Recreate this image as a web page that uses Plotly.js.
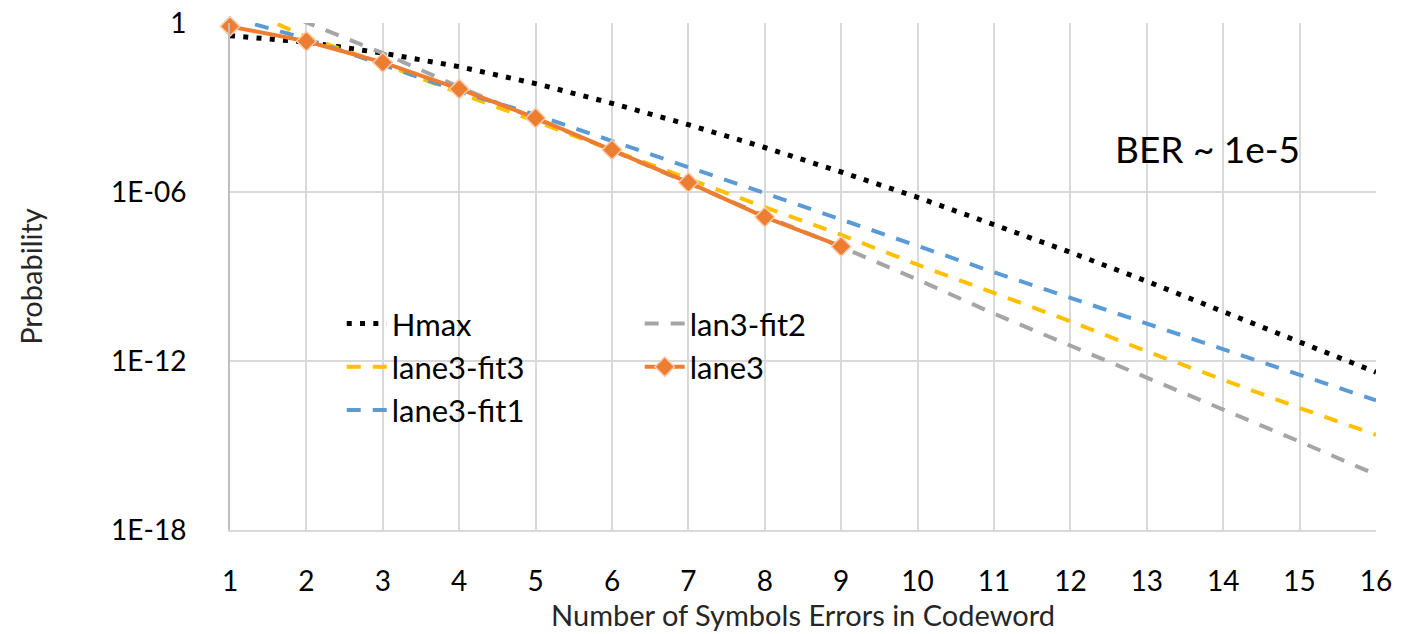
<!DOCTYPE html>
<html>
<head>
<meta charset="utf-8">
<script src="https://cdn.plot.ly/plotly-3.0.1.min.js"></script>
<style>html,body{margin:0;padding:0;background:#fff;}#chart{width:1416px;height:634px;}</style>
</head>
<body>
<div id="chart"></div>
<script>
const errors = [1,2,3,4,5,6,7,8,9,10,11,12,13,14,15,16];
const lane3X = [1,2,3,4,5,6,7,8,9];

const hmax = [0.355,0.209,0.0851,0.0282,7.08e-3,1.41e-3,2.45e-4,3.80e-5,5.13e-6,6.46e-7,6.92e-8,7.24e-9,6.76e-10,5.75e-11,4.90e-12,3.98e-13];
const lan3Fit2 = [15.8,1.05,0.0851,5.37e-3,3.98e-4,3.02e-5,2.09e-6,1.41e-7,1.12e-8,7.76e-10,4.79e-11,3.55e-12,2.51e-13,1.91e-14,1.38e-15,9.33e-17];
const lane3Fit3 = [5.01,0.324,0.0355,3.24e-3,3.24e-4,3.02e-5,2.95e-6,2.88e-7,3.02e-8,2.63e-9,2.57e-10,2.57e-11,2.19e-12,2.19e-13,2.14e-14,2.40e-15];
const lane3Fit1 = [1.58,0.275,0.0331,3.72e-3,5.50e-4,6.31e-5,7.59e-6,9.12e-7,1.05e-7,1.17e-8,1.41e-9,1.74e-10,2.14e-11,2.51e-12,3.02e-13,3.98e-14];
const lane3 = [0.759,0.224,0.0398,4.57e-3,4.27e-4,3.16e-5,2.19e-6,1.29e-7,1.17e-8];

const yTickVals = [1e-18,1e-12,1e-6,1];
const yTickText = ['1E-18','1E-12','1E-06','1'];

const FONT = 'Lato, "Open Sans", sans-serif';

const traces = [
  {x: errors, y: hmax, name: 'Hmax', mode: 'lines', legend: 'legend', legendrank: 1,
   line: {color: '#000000', width: 5, dash: '5px,8.3px'}},
  {x: errors, y: lan3Fit2, name: 'lan3-fit2', mode: 'lines', legend: 'legend2', legendrank: 1,
   line: {color: '#A5A5A5', width: 4, dash: '14px,12px'}},
  {x: errors, y: lane3Fit3, name: 'lane3-fit3', mode: 'lines', legend: 'legend', legendrank: 2,
   line: {color: '#FFC000', width: 4, dash: '14px,12px'}},
  {x: errors, y: lane3Fit1, name: 'lane3-fit1', mode: 'lines', legend: 'legend', legendrank: 3,
   line: {color: '#5B9BD5', width: 4, dash: '14px,12px'}},
  {x: lane3X, y: lane3, name: 'lane3', mode: 'lines+markers', legend: 'legend2', legendrank: 2,
   cliponaxis: false,
   line: {color: '#ED7D31', width: 4},
   marker: {symbol: 'diamond', size: 15, color: '#ED7D31', line: {color: '#F8CBAD', width: 1.5}}}
];

const layout = {
  width: 1416, height: 634,
  margin: {l: 230, r: 40, t: 23, b: 104},
  paper_bgcolor: '#ffffff', plot_bgcolor: '#ffffff',
  font: {family: FONT, color: '#000000'},
  xaxis: {
    range: [1, 16], tickvals: errors, ticks: '', ticklabelstandoff: 25,
    tickfont: {size: 28, family: FONT, color: '#000'},
    showgrid: true, gridcolor: '#D9D9D9', gridwidth: 2,
    showline: true, linecolor: '#D9D9D9', linewidth: 2, zeroline: false,
    title: {text: 'Number of Symbols Errors in Codeword', font: {size: 29, family: FONT, color: '#262626'}, standoff: 0}
  },
  yaxis: {
    type: 'log', range: [-18, 0], tickvals: yTickVals, ticktext: yTickText, ticks: '',
    ticklabelstandoff: 36,
    tickfont: {size: 28, family: FONT, color: '#000'},
    showgrid: true, gridcolor: '#D9D9D9', gridwidth: 2,
    showline: true, linecolor: '#BFBFBF', linewidth: 2, zeroline: false,
    title: {text: 'Probability', font: {size: 29, family: FONT, color: '#262626'}, standoff: 60}
  },
  legend: {x: 0.0975, y: 0.46, xanchor: 'left', yanchor: 'top', bgcolor: 'rgba(0,0,0,0)',
           font: {size: 31, family: FONT, color: '#000'}, traceorder: 'normal', tracegroupgap: 0, itemwidth: 40},
  legend2: {x: 0.3575, y: 0.46, xanchor: 'left', yanchor: 'top', bgcolor: 'rgba(0,0,0,0)',
           font: {size: 31, family: FONT, color: '#000'}, traceorder: 'normal', tracegroupgap: 0, itemwidth: 40},
  showlegend: true,
  annotations: [
    {xref: 'paper', yref: 'paper', x: 0.853, y: 0.752, xanchor: 'center', yanchor: 'middle',
     text: 'BER ~ 1e-5', showarrow: false, font: {size: 37, family: FONT, color: '#000'}}
  ]
};

Plotly.newPlot('chart', traces, layout, {displayModeBar: false, staticPlot: true});
</script>
</body>
</html>
